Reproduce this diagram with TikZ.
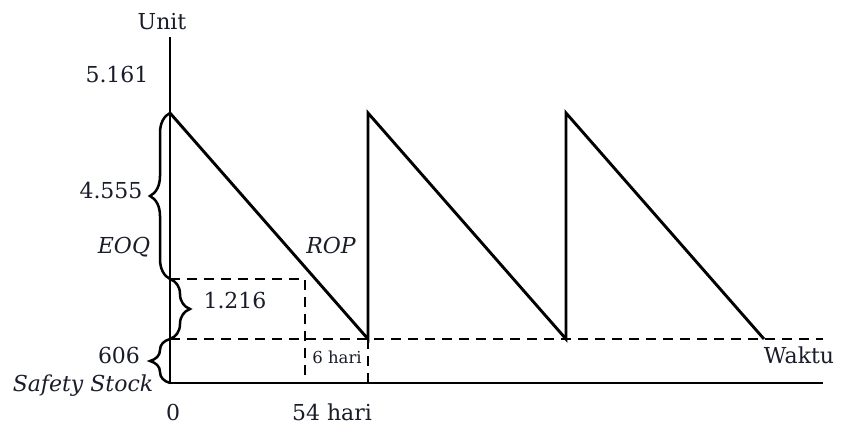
\documentclass[tikz,border=0pt]{standalone}
\usepackage{fontspec}
\setmainfont{DejaVu Serif}
\usetikzlibrary{decorations.pathreplacing}
\definecolor{txt}{rgb}{0.10,0.11,0.16}
\begin{document}
\begin{tikzpicture}[x=1pt,y=-1pt,
  line/.style={line width=2.9pt},
  dsh/.style={line width=2.7pt, dash pattern=on 10pt off 7pt},
  lbl/.style={font=\fontsize{22}{26}\selectfont, inner sep=0pt, anchor=base, text=txt},
  ilbl/.style={font=\fontsize{22}{26}\selectfont\itshape, inner sep=0pt, anchor=base, text=txt},
  small/.style={font=\fontsize{16.5}{19}\selectfont, inner sep=0pt, anchor=base, text=txt},
  brc/.style={decorate, decoration={brace, amplitude=20pt}, line width=2.5pt}]
\useasboundingbox (0,0) rectangle (841,425);
% key points
\coordinate (ytop) at (170,37);
\coordinate (O) at (170,383);
\coordinate (xend) at (823,383);
\coordinate (P1) at (170,113);
\coordinate (L1) at (368,339);
\coordinate (P2) at (368,113);
\coordinate (L2) at (566,339);
\coordinate (P3) at (566,113);
\coordinate (L3) at (764,339);
\coordinate (S0) at (170,339);
\coordinate (Send) at (823,339);
\coordinate (R0) at (170,279);
\coordinate (R1) at (305,279);
\coordinate (R1b) at (305,383);
\coordinate (L1b) at (368,383);
% axes
\draw[line] (ytop) -- (O) -- (xend);
% sawtooth
\draw[line, line join=miter] (P1) -- (L1) -- (P2) -- (L2) -- (P3) -- (L3);
% dashed lines
\draw[dsh] (S0) -- (Send);
\draw[dsh] (R0) -- (R1) -- (R1b);
\draw[dsh] (L1) -- (L1b);
% braces
\draw[brc] (R0) -- (P1);
\draw[brc] (R0) -- (S0);
\draw[brc] (O) -- (S0);
% labels
\node[lbl] (unit) at (162,30) {Unit};
\node[lbl] (v5161) at (117,83) {5.161};
\node[lbl] (v4555) at (111,198) {4.555};
\node[ilbl] (eoq) at (124,253) {EOQ};
\node[ilbl] (rop) at (331,253) {ROP};
\node[lbl] (v1216) at (235,308) {1.216};
\node[lbl] (v606) at (119,363) {606};
\node[ilbl] (ss) at (83,391) {Safety Stock};
\node[lbl] (zero) at (173,420) {0};
\node[lbl] (d54) at (332,420) {54 hari};
\node[small] (d6) at (337,363) {6 hari};
\node[lbl] (waktu) at (799,363) {Waktu};
\end{tikzpicture}
\end{document}
